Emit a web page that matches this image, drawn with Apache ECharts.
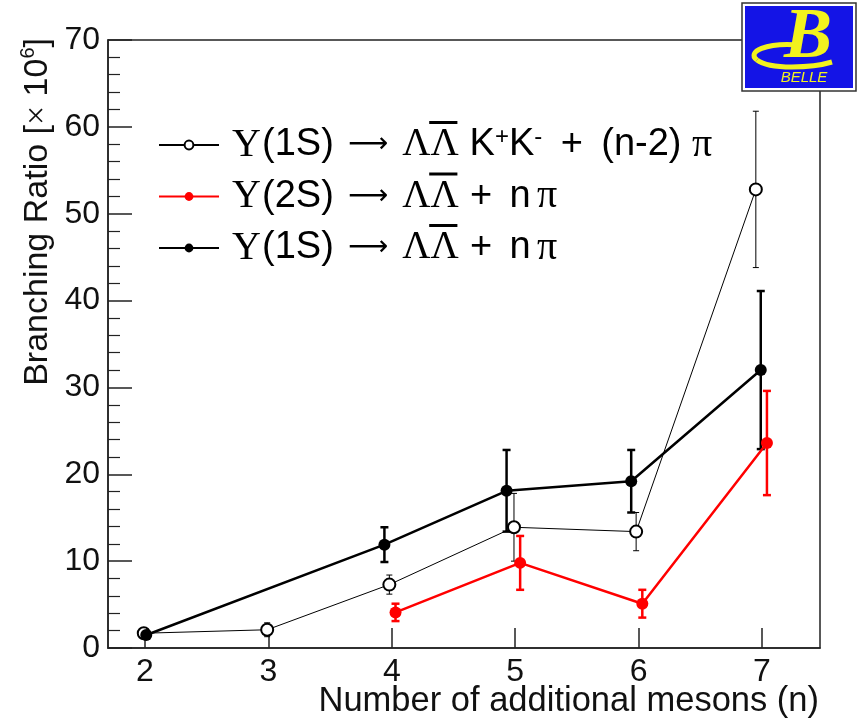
<!DOCTYPE html>
<html>
<head>
<meta charset="utf-8">
<script src="https://cdn.jsdelivr.net/npm/echarts@6/dist/echarts.min.js"></script>
<style>
html,body{margin:0;padding:0;background:#fff;}
#chart{width:859px;height:726px;}
</style>
</head>
<body>
<div id="chart"></div>
<script>
// ---- data ----
const xTickValues = [2, 3, 4, 5, 6, 7];
const yTickInterval = 10;

// Y(1S) -> Lambda Lambdabar K+K- + (n-2) pi  (open circles)
const kkX   = [1.99, 2.99, 3.98, 4.99, 5.98, 6.95];
const kkY   = [1.7, 2.1, 7.3, 13.9, 13.4, 52.8];
const kkErr = [0.4, 0.8, 1.1, 3.9, 2.2, 9.0];

// Y(2S) -> Lambda Lambdabar + n pi  (red)
const s2X   = [4.03, 5.04, 6.03, 7.04];
const s2Y   = [4.1, 9.8, 5.1, 23.6];
const s2Err = [1.0, 3.1, 1.6, 6.0];

// Y(1S) -> Lambda Lambdabar + n pi  (black)
const s1X   = [2.01, 3.94, 4.93, 5.94, 6.99];
const s1Y   = [1.5, 11.9, 18.1, 19.2, 32.0];
const s1Err = [0.3, 2.0, 4.7, 3.6, 9.1];

const nameKK = 'Υ(1S) → ΛΛ̄ K⁺K⁻ + (n-2) π';
const name2S = 'Υ(2S) → ΛΛ̄ + n π';
const name1S = 'Υ(1S) → ΛΛ̄ + n π';

const legendRich = {};
legendRich[nameKK] = '{u|Υ}{p|(1S)}{ar|⟶}{L|ΛΛ}{t| K}{sp|+}{t|K}{sp|-}{pl1|+}{t|(n-2) }{g|π}';
legendRich[name2S] = '{u|Υ}{p|(2S)}{ar|⟶}{L|ΛΛ}{pl2|+}{n|n}{g|π}';
legendRich[name1S] = '{u|Υ}{p|(1S)}{ar|⟶}{L|ΛΛ}{pl2|+}{n|n}{g|π}';

const pts = (xs, ys) => xs.map((x, i) => [x, ys[i]]);
const errPts = (xs, ys, es) => xs.map((x, i) => [x, ys[i], es[i]]);

function errRender(capHalf, width, color) {
  return function (params, api) {
    const x = api.value(0), y = api.value(1), e = api.value(2);
    const t = api.coord([x, y + e]);
    const b = api.coord([x, y - e]);
    const st = { stroke: color, lineWidth: width };
    return {
      type: 'group',
      children: [
        { type: 'line', shape: { x1: t[0], y1: t[1], x2: b[0], y2: b[1] }, style: st },
        { type: 'line', shape: { x1: t[0] - capHalf, y1: t[1], x2: t[0] + capHalf, y2: t[1] }, style: st },
        { type: 'line', shape: { x1: b[0] - capHalf, y1: b[1], x2: b[0] + capHalf, y2: b[1] }, style: st }
      ]
    };
  };
}

// legend layout constants (styles, not data)
const LEG_LEFT = 158, LEG_TOP = 125, LEG_ICON_W = 60, LEG_ROW_H = 40, LEG_GAP = 11.5, LEG_PAD = 8;
const TXT_START = LEG_LEFT + LEG_ICON_W + 5 + LEG_PAD;
// second Lambda: after Upsilon(30) + (1S)(72) + arrow(68) + first Lambda
const LAMBDA_W = 28.2;
const OV_X = TXT_START + 30 + 72 + 68 + LAMBDA_W;
const overlines = [0, 1, 2].map(i => ({
  type: 'rect', z: 20,
  shape: { x: OV_X, y: LEG_TOP + i * (LEG_ROW_H + LEG_GAP) + LEG_ROW_H / 2 - 24, width: LAMBDA_W, height: 3 },
  style: { fill: '#000' }
}));

const RED = '#ff0000';
const YEL = '#f2f21e';
const chart = echarts.init(document.getElementById('chart'), null, { renderer: 'canvas' });

const option = {
  animation: false,
  backgroundColor: '#fff',
  grid: {
    left: 108, right: 39, top: 40, bottom: 78,
    show: true, borderColor: '#222', borderWidth: 1.5,
    outerBoundsMode: 'none'
  },
  xAxis: {
    type: 'value', min: 1.7, max: 7.47,
    axisLine: { show: true, onZero: false, lineStyle: { color: '#222', width: 1.5 } },
    axisTick: { show: true, inside: true, length: 20, customValues: xTickValues, lineStyle: { color: '#222', width: 1.5 } },
    axisLabel: { customValues: xTickValues, fontSize: 32, fontFamily: 'Liberation Sans', color: '#111', margin: 8 },
    splitLine: { show: false }
  },
  yAxis: {
    type: 'value', min: 0, max: 70, interval: yTickInterval,
    axisLine: { show: true, lineStyle: { color: '#222', width: 1.5 } },
    axisTick: { show: true, inside: true, length: 24, lineStyle: { color: '#222', width: 1.5 } },
    minorTick: { show: true, splitNumber: 5, length: 12, lineStyle: { color: '#222', width: 1.2 } },
    axisLabel: { fontSize: 32, fontFamily: 'Liberation Sans', color: '#111', margin: 8 },
    splitLine: { show: false }
  },
  legend: {
    orient: 'vertical', left: LEG_LEFT, top: LEG_TOP, padding: 0,
    itemWidth: LEG_ICON_W, itemHeight: 11, itemGap: LEG_GAP,
    data: [nameKK, name2S, name1S],
    selectedMode: false,
    formatter: function (name) { return legendRich[name]; },
    textStyle: {
      padding: [0, 0, 0, LEG_PAD],
      lineHeight: LEG_ROW_H,
      rich: {
        u: { fontFamily: 'Liberation Serif', fontSize: 40, lineHeight: LEG_ROW_H, width: 30, color: '#000' },
        p: { fontFamily: 'Liberation Sans', fontSize: 38, lineHeight: LEG_ROW_H, width: 72, color: '#000' },
        ar: { fontFamily: 'DejaVu Sans', fontSize: 28, lineHeight: LEG_ROW_H, width: 68, align: 'center', color: '#000' },
        L: { fontFamily: 'Liberation Serif', fontSize: 39, lineHeight: LEG_ROW_H, width: 57, color: '#000' },
        t: { fontFamily: 'Liberation Sans', fontSize: 38, lineHeight: LEG_ROW_H, color: '#000' },
        sp: { fontFamily: 'Liberation Sans', fontSize: 24, lineHeight: 18, verticalAlign: 'top', color: '#000' },
        pl1: { fontFamily: 'Liberation Sans', fontSize: 38, lineHeight: LEG_ROW_H, width: 59, align: 'center', color: '#000' },
        pl2: { fontFamily: 'Liberation Sans', fontSize: 38, lineHeight: LEG_ROW_H, width: 44, align: 'center', color: '#000' },
        n: { fontFamily: 'Liberation Sans', fontSize: 38, lineHeight: LEG_ROW_H, width: 34, color: '#000' },
        g: { fontFamily: 'Liberation Serif', fontSize: 40, lineHeight: LEG_ROW_H, color: '#000' }
      }
    }
  },
  graphic: overlines.concat([
    {
      type: 'text', x: 819, y: 701, z: 10,
      style: { text: 'Number of additional mesons (n)', font: '34.5px "Liberation Sans"', fill: '#111', align: 'right', verticalAlign: 'middle' }
    },
    {
      type: 'text', x: 38, y: 38, rotation: Math.PI / 2, z: 10,
      style: {
        text: '{t|Branching Ratio [}{x|×}{t| 10}{s|6}{t|]}',
        align: 'right', verticalAlign: 'middle', fill: '#111',
        rich: {
          t: { fontFamily: 'Liberation Sans', fontSize: 34, lineHeight: 40, fill: '#111' },
          x: { fontFamily: 'Liberation Serif', fontSize: 34, lineHeight: 40, fill: '#111' },
          s: { fontFamily: 'Liberation Sans', fontSize: 20, lineHeight: 22, verticalAlign: 'top', fill: '#111' }
        }
      }
    },
    // BELLE logo
    {
      type: 'group', z: 100,
      children: [
        { type: 'rect', shape: { x: 742, y: 3, width: 114, height: 88 }, style: { fill: '#fff', stroke: '#333', lineWidth: 1.5 } },
        { type: 'rect', shape: { x: 745, y: 6, width: 108, height: 82 }, style: { fill: '#1414e6' } },
        { type: 'bezierCurve', shape: { x1: 800, y1: 45, cpx1: 766, cpy1: 42, cpx2: 746, cpy2: 52, x2: 757, y2: 60 }, style: { fill: null, stroke: YEL, lineWidth: 5 } },
        { type: 'bezierCurve', shape: { x1: 757, y1: 60, cpx1: 770, cpy1: 70, cpx2: 812, cpy2: 68, x2: 832, y2: 62 }, style: { fill: null, stroke: YEL, lineWidth: 5 } },
        { type: 'text', x: 808, y: 38, style: { text: 'B', font: 'italic bold 72px "Liberation Serif"', fill: YEL, align: 'center', verticalAlign: 'middle' } },
        { type: 'text', x: 804, y: 78, style: { text: 'BELLE', font: 'italic 15px "Liberation Sans"', fill: YEL, align: 'center', verticalAlign: 'middle' } }
      ]
    }
  ]),
  series: [
    {
      name: 'errKK', type: 'custom', renderItem: errRender(3, 1, '#000'),
      data: errPts(kkX, kkY, kkErr), encode: { x: 0, y: 1 }, z: 2
    },
    {
      name: 'err2S', type: 'custom', renderItem: errRender(4, 2.5, RED),
      data: errPts(s2X, s2Y, s2Err), encode: { x: 0, y: 1 }, z: 2
    },
    {
      name: 'err1S', type: 'custom', renderItem: errRender(4, 2.5, '#000'),
      data: errPts(s1X, s1Y, s1Err), encode: { x: 0, y: 1 }, z: 2
    },
    {
      name: nameKK, type: 'line', data: pts(kkX, kkY),
      symbol: 'emptyCircle', symbolSize: 12,
      lineStyle: { color: '#000', width: 1 },
      itemStyle: { color: '#000', borderColor: '#000', borderWidth: 1.2 },
      z: 3
    },
    {
      name: name2S, type: 'line', data: pts(s2X, s2Y),
      symbol: 'circle', symbolSize: 12,
      lineStyle: { color: RED, width: 2.5 },
      itemStyle: { color: RED },
      z: 4
    },
    {
      name: name1S, type: 'line', data: pts(s1X, s1Y),
      symbol: 'circle', symbolSize: 12,
      lineStyle: { color: '#000', width: 2.5 },
      itemStyle: { color: '#000' },
      z: 5
    }
  ]
};
chart.setOption(option);
</script>
</body>
</html>
